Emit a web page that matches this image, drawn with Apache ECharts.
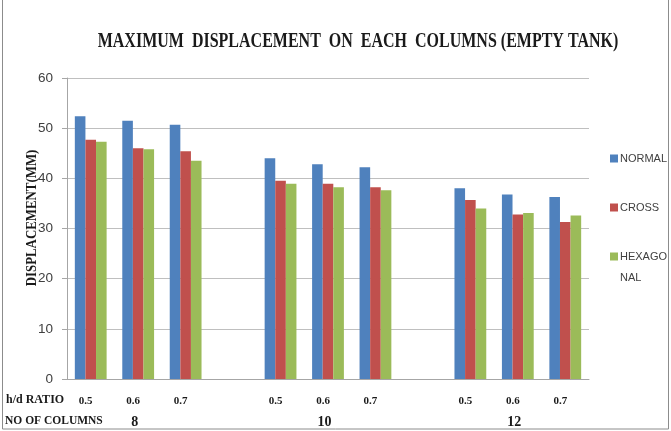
<!DOCTYPE html>
<html>
<head>
<meta charset="utf-8">
<script src="https://cdn.jsdelivr.net/npm/echarts@6/dist/echarts.min.js"></script>
<style>
  html, body { margin: 0; padding: 0; background: #fff; }
  #chart { width: 671px; height: 431px; }
</style>
</head>
<body>
<div id="chart"></div>
<script>
// Number of columns per group and the h/d ratios tested in each group
const columnGroups = ['8', '10', '12'];
const hdRatios = ['0.5', '0.6', '0.7'];

// Maximum displacement (mm), ordered group by group, ratio by ratio
const normal    = [52.4, 51.5, 50.7, 44.0, 42.8, 42.2, 38.0, 36.8, 36.3];
const cross     = [47.7, 46.0, 45.4, 39.5, 38.9, 38.2, 35.7, 32.8, 31.3];
const hexagonal = [47.3, 45.8, 43.5, 38.9, 38.2, 37.6, 34.0, 33.1, 32.6];

const yTicks = [0, 10, 20, 30, 40, 50, 60];

// Build the category axis with one empty slot between groups
const categories = [];
const groupLabel = [];
columnGroups.forEach((g, gi) => {
  hdRatios.forEach((r, ri) => {
    categories.push(r);
    groupLabel.push(ri === 1 ? g : '');
  });
  if (gi < columnGroups.length - 1) {
    categories.push('');
    groupLabel.push('');
  }
});

function spread(values) {
  const out = [];
  let k = 0;
  categories.forEach((c) => {
    if (c === '') out.push('-');
    else out.push(values[k++]);
  });
  return out;
}

const serif = '"Liberation Serif", "DejaVu Serif", serif';
const sans = '"Liberation Sans", Arial, sans-serif';
const ink = '#1a1a1a';

const chart = echarts.init(document.getElementById('chart'), null, { renderer: 'canvas' });

chart.setOption({
  animation: false,
  backgroundColor: '#ffffff',
  color: ['#4F81BD', '#C0504D', '#9BBB59'],
  legend: {
    orient: 'vertical',
    left: 610,
    top: 153,
    padding: 0,
    itemWidth: 8,
    itemHeight: 8,
    itemGap: 38,
    icon: 'rect',
    formatter: (name) => (name === 'HEXAGONAL' ? 'HEXAGO' : name),
    textStyle: { fontFamily: sans, fontSize: 11, color: '#404040', padding: [0, 0, 0, -3] },
    data: ['NORMAL', 'CROSS', 'HEXAGONAL']
  },
  grid: { left: 67, right: 82, top: 78, bottom: 52, containLabel: false },
  xAxis: {
    type: 'category',
    data: categories,
    axisTick: { show: false },
    axisLine: { lineStyle: { color: '#A6A6A6', width: 1 } },
    axisLabel: {
      interval: 0,
      margin: 12,
      formatter: (value, index) => '{a|' + (value || ' ') + '}\n{b|' + (groupLabel[index] || ' ') + '}',
      rich: {
        a: { fontFamily: serif, fontWeight: 'bold', fontSize: 11, lineHeight: 21, color: ink, padding: [0, 10, 0, 0] },
        b: { fontFamily: serif, fontWeight: 'bold', fontSize: 14, lineHeight: 21, color: ink, padding: [0, 7, 0, 0] }
      }
    }
  },
  yAxis: {
    type: 'value',
    min: yTicks[0],
    max: yTicks[yTicks.length - 1],
    interval: 10,
    axisLine: { show: true, lineStyle: { color: '#A6A6A6' } },
    axisTick: { show: true, length: 5, lineStyle: { color: '#A6A6A6' } },
    axisLabel: { margin: 14, fontFamily: sans, fontSize: 13.5, color: '#404040' },
    splitLine: { lineStyle: { color: '#BFBFBF', width: 1 } }
  },
  series: [
    { name: 'NORMAL', type: 'bar', data: spread(normal), barGap: '0%', barCategoryGap: '33%' },
    { name: 'CROSS', type: 'bar', data: spread(cross), barGap: '0%', barCategoryGap: '33%' },
    { name: 'HEXAGONAL', type: 'bar', data: spread(hexagonal), barGap: '0%', barCategoryGap: '33%' }
  ],
  graphic: [
    {
      type: 'rect',
      shape: { x: 2.5, y: -1, width: 666, height: 430 },
      style: { fill: 'none', stroke: '#8C8C8C', lineWidth: 1 },
      silent: true
    },
    // Chart title, set in a narrow bold serif
    {
      type: 'text',
      x: 358,
      y: 42,
      scaleX: 0.8,
      style: {
        text: 'MAXIMUM  DISPLACEMENT  ON  EACH  COLUMNS (EMPTY TANK)',
        font: 'bold 20px ' + serif,
        fill: ink,
        align: 'center',
        verticalAlign: 'middle'
      }
    },
    // Vertical axis title
    {
      type: 'text',
      x: 32,
      y: 218,
      rotation: Math.PI / 2,
      scaleX: 0.92,
      style: {
        text: 'DISPLACEMENT(MM)',
        font: 'bold 14px ' + serif,
        fill: ink,
        align: 'center',
        verticalAlign: 'middle'
      }
    },
    {
      type: 'text',
      left: 620,
      top: 272,
      style: { text: 'NAL', font: '11px ' + sans, fill: '#404040' }
    },
    {
      type: 'text',
      left: 6,
      top: 394,
      style: { text: 'h/d RATIO', font: 'bold 12px ' + serif, fill: ink }
    },
    {
      type: 'text',
      left: 5,
      top: 415,
      style: { text: 'NO OF COLUMNS', font: 'bold 11.5px ' + serif, fill: ink }
    }
  ]
});
</script>
</body>
</html>
